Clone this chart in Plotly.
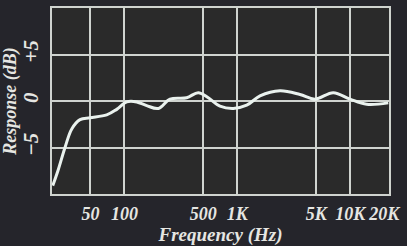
import plotly.graph_objects as go

freq_hz = [23.2, 25.8, 29.8, 34.2, 40.5, 49.6, 69.7, 85.5, 104.9, 128.6, 157.6, 199.7,
           253.4, 356, 451, 553, 702, 921, 1211, 1588, 2387, 3587, 4873, 7074, 9943,
           13980, 21710]
response_db = [-9.1, -7.5, -5.0, -3.0, -2.0, -1.8, -1.5, -0.9, -0.1, -0.1, -0.5, -0.8,
               0.2, 0.35, 0.9, 0.35, -0.55, -0.8, -0.45, 0.55, 1.1, 0.7, 0.2, 0.9, 0.2,
               -0.35, -0.2]

x_tick_vals = [50, 100, 500, 1000, 5000, 10000, 20000]
x_tick_text = ["50", "100", "500", "1K", "5K", "10K", "20K"]
x_grid_vals = [50, 100, 500, 1000, 5000, 10000]
y_tick_vals = [-5, 0, 5]
y_tick_text = ["\u22125", "0", "+5"]

font_family = "Liberation Serif, DejaVu Serif, serif"
text_col = "#e6e6e2"
grid_col = "#cfd3cf"

fig = go.Figure()
fig.add_trace(go.Scatter(
    x=freq_hz, y=response_db, mode="lines",
    line=dict(color="#eaf2ee", width=3, shape="spline", smoothing=1.0),
    hoverinfo="skip", showlegend=False,
))

fig.update_layout(
    width=407, height=246,
    margin=dict(l=52, r=18, t=8, b=52),
    paper_bgcolor="#25252b",
    plot_bgcolor="#2a2a2a",
    font=dict(family=font_family, color=text_col, size=18, style="italic", weight="bold"),
    xaxis=dict(
        type="log",
        range=[1.359, 4.343],
        automargin=False,
        tickmode="array", tickvals=x_tick_vals, ticktext=x_tick_text,
        tickangle=0,
        showgrid=False,
        minor=dict(tickmode="array", tickvals=x_grid_vals, showgrid=True,
                   gridcolor=grid_col, gridwidth=2, ticks=""),
        ticks="", showline=True, linecolor=grid_col, linewidth=2, mirror=True,
        zeroline=False,
        ticklabelstandoff=2,
        tickfont=dict(size=18, family=font_family, color=text_col, style="italic", weight="bold"),
        title=dict(text="Frequency (Hz)", standoff=2,
                   font=dict(size=19, family=font_family, color=text_col, style="italic", weight="bold")),
    ),
    yaxis=dict(
        range=[-10, 10],
        automargin=False,
        tickmode="array", tickvals=y_tick_vals, ticktext=y_tick_text,
        tickangle=-90,
        showgrid=True, gridcolor=grid_col, gridwidth=2,
        ticks="", showline=True, linecolor=grid_col, linewidth=2, mirror=True,
        zeroline=False,
        ticklabelstandoff=4,
        tickfont=dict(size=21, family=font_family, color=text_col, style="italic", weight="bold"),
        title=dict(text="Response (dB)", standoff=0,
                   font=dict(size=18, family=font_family, color=text_col, style="italic", weight="bold")),
    ),
)

fig.write_html(
    "out.html",
    config={"displayModeBar": False},
    post_script="document.body.style.margin='0';document.body.style.background='#25252b';",
)
